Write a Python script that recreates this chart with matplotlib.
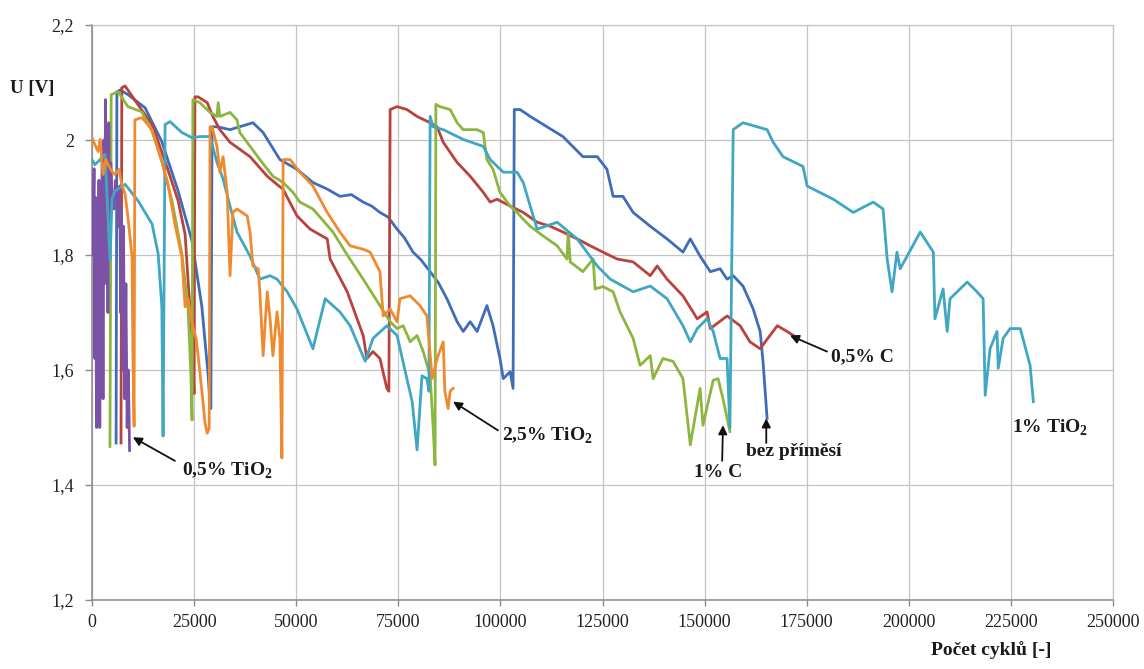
import matplotlib
matplotlib.use("Agg")
import matplotlib.pyplot as plt
from matplotlib.ticker import FixedLocator

plt.rcParams['font.family'] = ['Liberation Serif', 'DejaVu Serif']
plt.rcParams['mathtext.fontset'] = 'custom'
plt.rcParams['mathtext.rm'] = 'Liberation Serif'
plt.rcParams['mathtext.bf'] = 'Liberation Serif:bold'

# ---- data: cycle count vs. cell voltage U [V] ----
bez_x = [5900, 6100, 6900, 8800, 13000, 17100, 21100, 24500, 26900, 28400, 28900, 29100,
         29400, 30600, 33800, 39400, 41900, 46000, 50200, 54100, 57500, 60700, 63500, 66400,
         68500, 70500, 72500, 74700, 76500, 78600, 80500, 82800, 84800, 86900, 89400, 90900,
         92600, 94300, 96700, 98200, 99900, 100700, 102400, 103100,
         103400, 104800, 107300, 111400, 115300, 120200, 123700, 126100, 127600, 130000,
         132500, 136700, 140800, 144700, 146500, 148900, 151400, 153800, 155500, 157000,
         159400, 161900, 163600, 164300, 165300]
bez_u = [1.473, 2.084, 2.087, 2.079, 2.056, 1.997, 1.911, 1.824, 1.710, 1.594, 1.542, 1.533,
         2.023, 2.023, 2.018, 2.030, 2.013, 1.966, 1.949, 1.926, 1.915, 1.902, 1.905, 1.892,
         1.885, 1.874, 1.866, 1.845, 1.830, 1.805, 1.792, 1.771, 1.752, 1.724, 1.684, 1.667,
         1.684, 1.667, 1.712, 1.677, 1.620, 1.585, 1.597, 1.568,
         2.053, 2.053, 2.041, 2.023, 2.006, 1.971, 1.971, 1.949, 1.902, 1.902,
         1.874, 1.850, 1.828, 1.805, 1.828, 1.798, 1.771, 1.776, 1.758, 1.764,
         1.746, 1.706, 1.667, 1.615, 1.516]

c05_x = [7100, 7300, 8100, 11300, 14700, 17900, 21100, 22800, 23500, 24500, 25000,
         25200, 26000, 28200, 29600, 31300, 33800, 38700, 42900, 46800, 50200, 53400, 57600,
         58300, 62500, 66400, 67300, 68800, 70500, 72200, 72700,
         73000, 74700, 77100, 79600, 82800, 84500, 86000, 89400, 92600, 95800, 97500, 99200,
         102400, 105600, 109000, 112200, 115300, 118800, 122000, 125100, 128600, 132500,
         136700, 138400, 140800, 144700, 148200, 150600, 151400, 155500, 158700, 161100,
         163600, 166000, 167800, 170200, 172200]
c05_u = [1.473, 2.091, 2.094, 2.061, 2.027, 1.963, 1.894, 1.836, 1.758, 1.655, 1.559,
         2.075, 2.075, 2.065, 2.041, 2.018, 1.996, 1.971, 1.937, 1.914, 1.868, 1.845, 1.828,
         1.793, 1.736, 1.660, 1.620, 1.632, 1.620, 1.568, 1.563,
         2.053, 2.058, 2.053, 2.041, 2.030, 2.023, 1.996, 1.961, 1.937, 1.909, 1.892, 1.897,
         1.885, 1.874, 1.857, 1.850, 1.840, 1.828, 1.816, 1.805, 1.793, 1.788,
         1.764, 1.781, 1.758, 1.729, 1.689, 1.701, 1.672, 1.694, 1.677, 1.649,
         1.637, 1.660, 1.677, 1.667, 1.658]

c1_x = [4400, 4700, 6400, 8800, 12200, 14700, 17100, 19600, 22000, 23500, 24200, 24500,
        24700, 26400, 28900, 30600, 30900, 31300, 33800, 35500, 36200, 38700, 41100, 44300,
        46800, 49200, 50900, 54100, 59000, 62500, 66400, 70500, 73000, 74700, 76200, 77900,
        79600, 81100, 82800, 83500, 84000,
        84200, 85200, 87700, 89400, 90900, 94300, 95800, 96700, 98200, 99900, 102400, 104100,
        105600, 107300, 110500, 113900, 116300, 116600, 117100, 120200, 122700, 123200,
        125100, 127600, 129300, 132500, 134200, 136700, 137400, 139800, 142300, 144700,
        146500, 148900, 149600, 152100, 153300, 154500, 156200]
c1_u = [1.467, 2.079, 2.084, 2.058, 2.049, 2.015, 1.963, 1.894, 1.802, 1.710, 1.594, 1.513,
        2.070, 2.065, 2.048, 2.041, 2.065, 2.041, 2.048, 2.035, 2.013, 1.989, 1.966, 1.937,
        1.926, 1.909, 1.892, 1.880, 1.840, 1.800, 1.758, 1.712, 1.684, 1.672, 1.677, 1.649,
        1.660, 1.632, 1.590, 1.504, 1.435,
        2.062, 2.058, 2.053, 2.030, 2.018, 2.018, 2.013, 1.966, 1.949, 1.909, 1.885, 1.874,
        1.862, 1.850, 1.833, 1.816, 1.793, 1.840, 1.788, 1.771, 1.793, 1.741,
        1.745, 1.736, 1.701, 1.655, 1.608, 1.625, 1.585, 1.620, 1.615, 1.585,
        1.470, 1.568, 1.504, 1.582, 1.585, 1.550, 1.493]

t05_x = [200, 500, 700, 900, 1100, 1300, 1500, 1700, 1900, 2100, 2300, 2500, 2700, 2900,
         3100, 3300, 3500, 3700, 3900, 4100, 4300, 4600, 5000, 5400, 5800, 6200, 6500, 6800,
         7000, 7200, 7500, 7700, 8000, 8300, 8600, 8900, 9200]
t05_u = [1.80, 1.95, 1.62, 1.90, 1.50, 1.88, 1.70, 1.93, 1.50, 1.85, 1.66, 1.98, 1.55, 2.00,
         1.75, 2.07, 1.80, 2.02, 1.70, 2.03, 1.85, 1.96, 1.90, 1.88, 1.93, 1.90, 1.85, 1.92,
         1.70, 1.88, 1.60, 1.85, 1.55, 1.75, 1.50, 1.60, 1.46]

t1_x = [0, 700, 2000, 3200, 4400, 4900, 5600, 8100, 11300, 14700, 16200, 17100, 17400,
        17900, 19100, 22000, 24500, 26400, 28900, 30600, 32100, 33800, 35500, 38700, 41100,
        43600, 45300, 47800, 50200, 54100, 57100, 60700, 63200, 66900, 68800, 72200, 74700,
        77100, 78400, 79600, 80800, 82000, 82500,
        82800, 83500, 86000, 90900, 95800, 97500, 100700, 104100, 105600, 107300, 109000,
        113900, 118800, 123700, 126900, 132500, 136700, 140800, 144700, 146500, 148200,
        150600, 152100, 153800, 155500, 156200,
        157000, 159400, 165300, 166800, 169200, 174100, 175100, 181500, 186400, 191300,
        193700, 194700, 195900, 197100, 197900, 202800, 206000, 206400, 208400, 209400,
        210100, 214300, 216700, 218200, 218700, 219900, 221600, 221900, 223100, 224800,
        227300, 229700, 230500]
t1_u = [1.966, 1.957, 1.966, 1.975, 1.790, 1.897, 1.911, 1.923, 1.894, 1.854, 1.802, 1.710,
        1.485,
        2.027, 2.032, 2.013, 2.004, 2.006, 2.006, 1.961, 1.932, 1.885, 1.840, 1.798, 1.758,
        1.764, 1.758, 1.736, 1.706, 1.637, 1.724, 1.701, 1.677, 1.615, 1.655, 1.677, 1.660,
        1.585, 1.545, 1.461, 1.590, 1.585, 1.563,
        2.041, 2.023, 2.018, 2.001, 1.989, 1.966, 1.944, 1.944, 1.926, 1.885, 1.845,
        1.857, 1.828, 1.781, 1.758, 1.736, 1.746, 1.724, 1.677, 1.649, 1.672,
        1.689, 1.667, 1.620, 1.620, 1.499,
        2.018, 2.030, 2.018, 1.996, 1.971, 1.954, 1.920, 1.897, 1.874, 1.892,
        1.880, 1.793, 1.736, 1.805, 1.776, 1.840, 1.805, 1.689, 1.741, 1.667,
        1.724, 1.753, 1.736, 1.724, 1.556, 1.637, 1.667, 1.603, 1.655, 1.672,
        1.672, 1.608, 1.545]

t25_x = [0, 700, 1500, 2000, 2700, 3400, 3900, 4900, 5600, 6600, 7300, 8100, 8800, 9800,
         10000, 10300,
         10500, 12200, 14700, 17100, 18600, 20300, 22000, 22800, 23500, 24500, 25500, 26000,
         26900, 27700, 28200, 28700,
         28900, 29400, 30600, 31300, 32100, 33100, 33800, 34500, 35500, 38000, 38700, 39400,
         40700, 41100, 41900, 42900, 43600, 44300, 45300, 46000, 46500,
         46800, 48500, 50900, 54100, 57600, 60700, 63200, 66400, 68100, 70500, 71300, 73000,
         74700, 75400, 77900, 80300, 82000, 83300, 84500, 86000, 86400, 87200, 87700, 88400]
t25_u = [2.004, 1.992, 1.980, 2.001, 1.940, 1.966, 1.958, 1.945, 1.940, 1.949, 1.923, 1.906,
         1.866, 1.797, 1.637, 1.502,
         2.035, 2.039, 2.018, 1.963, 1.923, 1.854, 1.797, 1.710, 1.724, 1.681, 1.655, 1.623,
         1.564, 1.507, 1.490, 1.499,
         2.023, 2.023, 1.989, 1.944, 1.971, 1.909, 1.764, 1.874, 1.880, 1.868, 1.840, 1.781,
         1.776, 1.736, 1.625, 1.736, 1.689, 1.625, 1.701, 1.655, 1.447,
         1.966, 1.966, 1.944, 1.920, 1.874, 1.840, 1.816, 1.810, 1.805, 1.771, 1.694, 1.706,
         1.684, 1.724, 1.729, 1.712, 1.694, 1.585, 1.620, 1.649, 1.563, 1.533, 1.563, 1.568]

y_ticks = [1.2, 1.4, 1.6, 1.8, 2.0, 2.2]
y_tick_labels = ['1,2', '1,4', '1,6', '1,8', '2', '2,2']
x_ticks = [0, 25000, 50000, 75000, 100000, 125000, 150000, 175000, 200000, 225000, 250000]
x_tick_labels = [str(v) for v in x_ticks]

series = [
    (bez_x, bez_u, '#3F6DB7'),
    (c05_x, c05_u, '#BA423D'),
    (c1_x, c1_u, '#8DB640'),
    (t05_x, t05_u, '#7B52A6'),
    (t1_x, t1_u, '#3FA7C4'),
    (t25_x, t25_u, '#F08A2E'),
]

fig = plt.figure(figsize=(11.44, 6.69), dpi=100)
ax = fig.add_axes([92 / 1144, 1 - 600 / 669, (1113 - 92) / 1144, (600 - 25) / 669])

for i, (xs, us, col) in enumerate(series):
    ax.plot(xs, us, color=col, lw=2.0, solid_joinstyle='round', zorder=3 + i)

ax.set_xlim(0, 250000)
ax.set_ylim(1.2, 2.2)
ax.xaxis.set_major_locator(FixedLocator(x_ticks))
ax.yaxis.set_major_locator(FixedLocator(y_ticks))
ax.set_xticklabels(x_tick_labels)
ax.set_yticklabels(y_tick_labels)
ax.grid(True, color='#c4c4c4', lw=0.9, zorder=0)
ax.set_axisbelow(True)
for s in ['top', 'right']:
    ax.spines[s].set_color('#c4c4c4')
    ax.spines[s].set_linewidth(0.9)
for s in ['left', 'bottom']:
    ax.spines[s].set_color('#8a8a8a')
    ax.spines[s].set_linewidth(1.1)
ax.tick_params(axis='y', direction='out', length=5, width=1, color='#8a8a8a',
               pad=8, labelsize=13, labelcolor='#222222')
ax.tick_params(axis='x', direction='out', length=4, width=1, color='#8a8a8a',
               pad=6, labelsize=13, labelcolor='#222222')

fig.text(32 / 1144, 1 - 88 / 669, 'U [V]', ha='center', va='center',
         fontsize=13.5, fontweight='bold', color='#1a1a1a')
fig.text(991 / 1144, 1 - 650 / 669, 'Počet cyklů [-]', ha='center', va='center',
         fontsize=14, fontweight='bold', color='#1a1a1a')

# labels and pointer arrows for the individual curves
labels = [
    (r'0,5% TiO$_\mathbf{2}$', (33100, 1.424), (20300, 1.442), (10000, 1.483)),
    (r'2,5% TiO$_\mathbf{2}$', (111400, 1.485), (99400, 1.495), (88400, 1.545)),
    ('0,5% C', (188600, 1.623), (180000, 1.632), (170900, 1.660)),
    ('bez příměsí', (171900, 1.459), (165100, 1.473), (165100, 1.516)),
    ('1% C', (153300, 1.422), (154300, 1.442), (154500, 1.504)),
    (r'1% TiO$_\mathbf{2}$', (234600, 1.499), None, None),
]
for text, pos, tail, tip in labels:
    ax.text(pos[0], pos[1], text, ha='center', va='center', fontsize=14,
            fontweight='bold', color='#1a1a1a', zorder=10)
    if tail is not None:
        ax.annotate('', xy=tip, xytext=tail,
                    arrowprops=dict(arrowstyle='-|>', color='#111111', lw=1.3,
                                    mutation_scale=13, shrinkA=0, shrinkB=0),
                    zorder=10)

fig.savefig('out.png', dpi=100)
